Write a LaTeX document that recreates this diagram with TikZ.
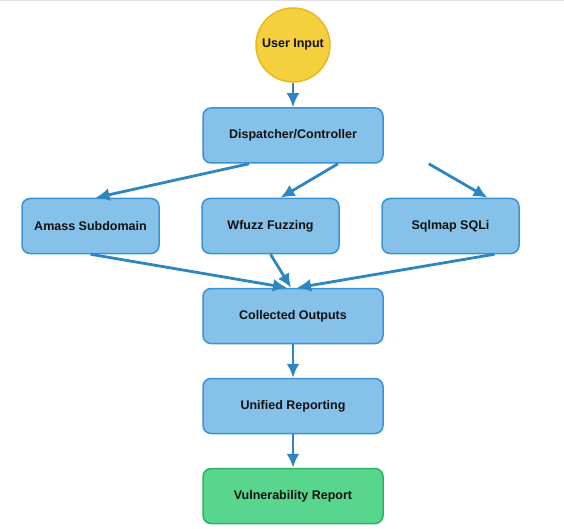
\documentclass[tikz,border=0pt]{standalone}
\usepackage{fontspec}
\setmainfont{Liberation Sans}
\usepackage{tikz}
\usetikzlibrary{arrows.meta}
\definecolor{inputfill}{HTML}{F4CF3E}
\definecolor{inputline}{HTML}{E8B820}
\definecolor{boxfill}{HTML}{85C1E9}
\definecolor{boxline}{HTML}{3A93D3}
\definecolor{donefill}{HTML}{58D68D}
\definecolor{doneline}{HTML}{2AB365}
\definecolor{flowblue}{HTML}{2E86C1}
\definecolor{textdark}{HTML}{111111}

\begin{document}
\begin{tikzpicture}[x=1pt, y=1pt, font=\fontsize{12.5}{15}\selectfont\bfseries]
	\tikzstyle{stage}=[rectangle,rounded corners=8pt,draw=boxline,fill=boxfill,line width=1.5pt,minimum width=180pt,minimum height=55pt,inner sep=0pt,text=textdark]
	\tikzstyle{tool}=[stage, minimum width=137pt]
	\tikzstyle{input node}=[circle,draw=inputline,fill=inputfill,line width=1.5pt,minimum size=74pt,inner sep=0pt,text=textdark]
	\tikzstyle{report}=[stage, fill=donefill, draw=doneline]
	\tikzstyle{flow}=[draw=flowblue, line width=2.8pt, -{Latex[length=14pt,width=13pt]}]

	\useasboundingbox (0,0) rectangle (564,-529);
	\draw[line width=1pt, draw=black!12] (0,-0.5) -- (564,-0.5);

	% Draw the input
	\node[input node] (user) at (293,-45) {User Input};

	% Draw the dispatcher
	\node[stage] (disp) at (293,-135.5) {Dispatcher/Controller};
	\coordinate (disp_sq) at ([xshift=45pt]disp.south east);

	% Draw the tools
	\node[tool] (amass) at (90.5,-226) {Amass Subdomain};
	\node[tool] (wfuzz) at (270.5,-226) {Wfuzz Fuzzing};
	\node[tool] (sqlmap) at (450.5,-226) {Sqlmap SQLi};

	% Draw the outputs and the report
	\node[stage] (collect) at (293,-316) {Collected Outputs};
	\node[stage] (unified) at (293,-406) {Unified Reporting};
	\node[report] (vuln) at (293,-496) {Vulnerability Report};

	% Draw arrows
	\draw[flow] (user) -- (disp);
	\draw[flow] ([xshift=-44pt]disp.south) -- ([xshift=5pt]amass.north);
	\draw[flow] ([xshift=45pt]disp.south) -- ([xshift=10pt]wfuzz.north);
	\draw[flow] (disp_sq) -- ([xshift=37pt]sqlmap.north);
	\draw[flow] (amass.south) -- ([xshift=-6pt]collect.north);
	\draw[flow] (wfuzz.south) -- ([xshift=-2pt]collect.north);
	\draw[flow] ([xshift=44pt]sqlmap.south) -- ([xshift=4pt]collect.north);
	\draw[flow] (collect) -- (unified);
	\draw[flow] (unified) -- (vuln);
\end{tikzpicture}
\end{document}
